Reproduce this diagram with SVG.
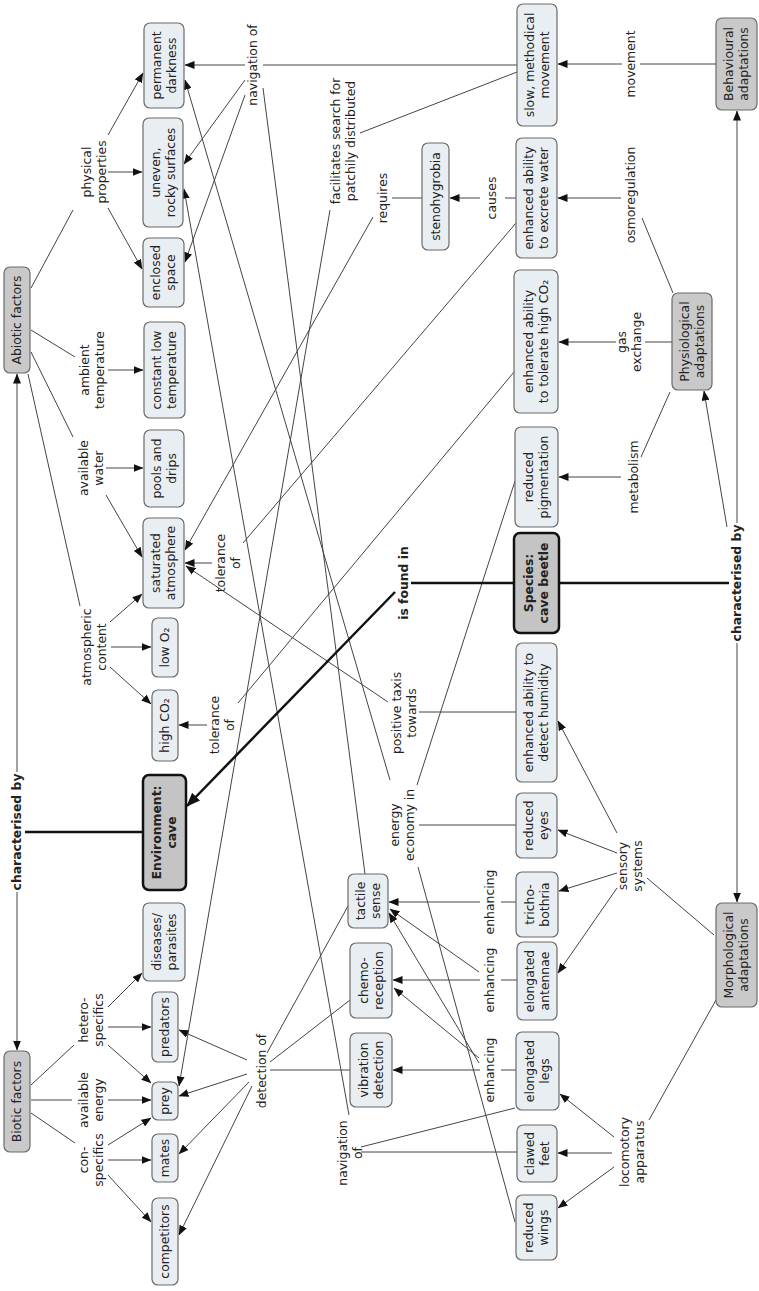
<svg xmlns="http://www.w3.org/2000/svg" width="759" height="1291" viewBox="0 0 759 1291">
<style>
.n rect{fill:#e9eef2;stroke:#6b6b6b;stroke-width:1.2}
.g rect{fill:#c9c9c9;stroke:#6b6b6b;stroke-width:1.2}
.k rect{fill:#c4c4c4;stroke:#111;stroke-width:2.5}
text{font-family:"DejaVu Sans",Verdana,sans-serif;font-size:12.4px;fill:#222;text-anchor:middle}
.b{font-weight:bold}
#connectors line{stroke:#444;stroke-width:1;fill:none}
#connectors line.a{marker-end:url(#ah)}
#connectors line.th{stroke:#111;stroke-width:2.5}
#connectors line.tha{stroke:#111;stroke-width:2.5;marker-end:url(#ahb)}
</style>
<defs>
<marker id="ah" markerUnits="userSpaceOnUse" markerWidth="10" markerHeight="8" refX="9.5" refY="4" orient="auto"><path d="M0,0 L10,4 L0,8 z" fill="#111"/></marker>
<marker id="ahb" markerUnits="userSpaceOnUse" markerWidth="14" markerHeight="11" refX="13" refY="5.5" orient="auto"><path d="M0,0 L14,5.5 L0,11 z" fill="#111"/></marker>
</defs>
<rect width="759" height="1291" fill="#fff"/>
<g id="connectors">
<line x1="31" y1="288" x2="73" y2="210"/>
<line class="a" x1="108" y1="135" x2="143" y2="73"/>
<line class="a" x1="108" y1="172" x2="142" y2="172"/>
<line class="a" x1="108" y1="208" x2="142" y2="269"/>
<line x1="31" y1="330" x2="75" y2="357"/>
<line class="a" x1="108" y1="370" x2="143" y2="370"/>
<line x1="31" y1="352" x2="73" y2="437"/>
<line class="a" x1="106" y1="468" x2="143" y2="468"/>
<line class="a" x1="106" y1="495" x2="142" y2="557"/>
<line x1="28" y1="374" x2="80" y2="606"/>
<line class="a" x1="110" y1="622" x2="142" y2="594"/>
<line class="a" x1="111" y1="647" x2="151" y2="647"/>
<line class="a" x1="110" y1="667" x2="151" y2="704"/>
<line x1="31" y1="1085" x2="74" y2="1045"/>
<line x1="31" y1="1100" x2="72" y2="1100"/>
<line x1="31" y1="1113" x2="75" y2="1143"/>
<line class="a" x1="108" y1="1007" x2="142" y2="973"/>
<line class="a" x1="108" y1="1027" x2="151" y2="1027"/>
<line class="a" x1="108" y1="1045" x2="151" y2="1083"/>
<line class="a" x1="108" y1="1100" x2="151" y2="1100"/>
<line class="a" x1="108" y1="1145" x2="151" y2="1118"/>
<line class="a" x1="108" y1="1160" x2="151" y2="1160"/>
<line class="a" x1="108" y1="1175" x2="151" y2="1222"/>
<line class="a" x1="247" y1="1060" x2="179" y2="1030"/>
<line class="a" x1="247" y1="1074" x2="179" y2="1096"/>
<line class="a" x1="249" y1="1082" x2="179" y2="1154"/>
<line class="a" x1="252" y1="1086" x2="179" y2="1235"/>
<line x1="348" y1="906" x2="267" y2="1053"/>
<line x1="350" y1="1000" x2="270" y2="1062"/>
<line x1="350" y1="1070" x2="270" y2="1070"/>
<line x1="516" y1="902" x2="501" y2="902"/>
<line class="a" x1="480" y1="902" x2="389" y2="902"/>
<line x1="517" y1="980" x2="501" y2="980"/>
<line class="a" x1="480" y1="980" x2="393" y2="980"/>
<line class="a" x1="479" y1="972" x2="390" y2="909"/>
<line x1="516" y1="1070" x2="501" y2="1070"/>
<line class="a" x1="480" y1="1070" x2="393" y2="1070"/>
<line class="a" x1="479" y1="1058" x2="394" y2="988"/>
<line class="a" x1="479" y1="1063" x2="389" y2="913"/>
<line x1="714" y1="935" x2="647" y2="878"/>
<line class="a" x1="617" y1="833" x2="558" y2="721"/>
<line class="a" x1="617" y1="853" x2="558" y2="830"/>
<line class="a" x1="617" y1="873" x2="559" y2="891"/>
<line class="a" x1="617" y1="888" x2="558" y2="973"/>
<line x1="716" y1="1000" x2="649" y2="1120"/>
<line class="a" x1="614" y1="1137" x2="560" y2="1094"/>
<line class="a" x1="612" y1="1153" x2="558" y2="1153"/>
<line class="a" x1="614" y1="1167" x2="558" y2="1208"/>
<line x1="517" y1="1152" x2="361" y2="1152"/>
<line x1="515" y1="1108" x2="361" y2="1147"/>
<line class="a" x1="349" y1="1115" x2="184" y2="189"/>
<line x1="517" y1="65" x2="263" y2="65"/>
<line class="a" x1="245" y1="65" x2="185" y2="65"/>
<line class="a" x1="245" y1="80" x2="184" y2="164"/>
<line class="a" x1="245" y1="95" x2="185" y2="262"/>
<line x1="365" y1="874" x2="263" y2="88"/>
<line x1="516" y1="825" x2="419" y2="825"/>
<line x1="515" y1="481" x2="417" y2="785"/>
<line x1="515" y1="1222" x2="418" y2="867"/>
<line class="a" x1="390" y1="780" x2="185" y2="80"/>
<line x1="516" y1="712" x2="419" y2="712"/>
<line class="a" x1="388" y1="702" x2="186" y2="566"/>
<line x1="516" y1="223" x2="243" y2="543"/>
<line class="a" x1="212" y1="563" x2="185" y2="563"/>
<line x1="514" y1="372" x2="238" y2="703"/>
<line class="a" x1="207" y1="725" x2="179" y2="725"/>
<line x1="422" y1="198" x2="392" y2="198"/>
<line class="a" x1="373" y1="217" x2="185" y2="550"/>
<line x1="516" y1="198" x2="505" y2="198"/>
<line class="a" x1="480" y1="198" x2="450" y2="198"/>
<line x1="517" y1="72" x2="360" y2="133"/>
<line class="a" x1="330" y1="210" x2="179" y2="1086"/>
<line x1="672" y1="342" x2="645" y2="342"/>
<line class="a" x1="616" y1="342" x2="559" y2="342"/>
<line x1="670" y1="392" x2="641" y2="457"/>
<line class="a" x1="621" y1="477" x2="559" y2="477"/>
<line x1="673" y1="293" x2="642" y2="218"/>
<line class="a" x1="621" y1="198" x2="558" y2="198"/>
<line x1="716" y1="64" x2="640" y2="64"/>
<line class="a" x1="622" y1="64" x2="558" y2="64"/>
<line class="a" x1="737" y1="523" x2="737" y2="111"/>
<line class="a" x1="737" y1="643" x2="737" y2="902"/>
<line class="a" x1="727" y1="527" x2="704" y2="391"/>
<line class="th" x1="559" y1="583" x2="729" y2="583"/>
<line class="th" x1="514" y1="583" x2="411" y2="583"/>
<line class="tha" x1="395" y1="592" x2="187" y2="806"/>
<line class="th" x1="143" y1="832" x2="25" y2="832"/>
<line class="a" x1="17" y1="772" x2="17" y2="374"/>
<line class="a" x1="17" y1="892" x2="17" y2="1050"/>
</g>
<g id="n_perm" class="n"><rect x="144" y="23" width="40" height="85" rx="6"/><text transform="translate(164,65.5) rotate(-90)"><tspan x="0" y="-3.3">permanent</tspan><tspan x="0" y="11.7">darkness</tspan></text></g>
<g id="n_uneven" class="n"><rect x="143" y="118" width="40" height="109" rx="6"/><text transform="translate(163,172.5) rotate(-90)"><tspan x="0" y="-3.3">uneven,</tspan><tspan x="0" y="11.7">rocky surfaces</tspan></text></g>
<g id="n_encl" class="n"><rect x="143" y="238" width="41" height="69" rx="6"/><text transform="translate(163.5,272.5) rotate(-90)"><tspan x="0" y="-3.3">enclosed</tspan><tspan x="0" y="11.7">space</tspan></text></g>
<g id="n_const" class="n"><rect x="144" y="322" width="41" height="96" rx="6"/><text transform="translate(164.5,370) rotate(-90)"><tspan x="0" y="-3.3">constant low</tspan><tspan x="0" y="11.7">temperature</tspan></text></g>
<g id="n_pools" class="n"><rect x="144" y="430" width="40" height="77" rx="6"/><text transform="translate(164,468.5) rotate(-90)"><tspan x="0" y="-3.3">pools and</tspan><tspan x="0" y="11.7">drips</tspan></text></g>
<g id="n_sat" class="n"><rect x="143" y="518" width="41" height="90" rx="6"/><text transform="translate(163.5,563) rotate(-90)"><tspan x="0" y="-3.3">saturated</tspan><tspan x="0" y="11.7">atmosphere</tspan></text></g>
<g id="n_lowo2" class="n"><rect x="152" y="618" width="26" height="59" rx="6"/><text transform="translate(165,647.5) rotate(-90)" y="4.2">low O₂</text></g>
<g id="n_highco2" class="n"><rect x="152" y="690" width="26" height="71" rx="6"/><text transform="translate(165,725.5) rotate(-90)" y="4.2">high CO₂</text></g>
<g id="n_env" class="k"><rect x="143" y="775" width="43" height="115" rx="6"/><text class="b" transform="translate(164.5,832.5) rotate(-90)"><tspan x="0" y="-3.3">Environment:</tspan><tspan x="0" y="11.7">cave</tspan></text></g>
<g id="n_dis" class="n"><rect x="143" y="903" width="42" height="78" rx="6"/><text transform="translate(164,942) rotate(-90)"><tspan x="0" y="-3.3">diseases/</tspan><tspan x="0" y="11.7">parasites</tspan></text></g>
<g id="n_pred" class="n"><rect x="152" y="992" width="26" height="70" rx="6"/><text transform="translate(165,1027) rotate(-90)" y="4.2">predators</text></g>
<g id="n_prey" class="n"><rect x="152" y="1082" width="26" height="38" rx="6"/><text transform="translate(165,1101) rotate(-90)" y="4.2">prey</text></g>
<g id="n_mates" class="n"><rect x="152" y="1134" width="26" height="48" rx="6"/><text transform="translate(165,1158) rotate(-90)" y="4.2">mates</text></g>
<g id="n_comp" class="n"><rect x="152" y="1198" width="26" height="87" rx="6"/><text transform="translate(165,1241.5) rotate(-90)" y="4.2">competitors</text></g>
<g id="n_abiotic" class="g"><rect x="4" y="267" width="26" height="106" rx="6"/><text transform="translate(17,320) rotate(-90)" y="4.2">Abiotic factors</text></g>
<g id="n_biotic" class="g"><rect x="4" y="1051" width="26" height="101" rx="6"/><text transform="translate(17,1101.5) rotate(-90)" y="4.2">Biotic factors</text></g>
<g id="n_tactile" class="n"><rect x="348" y="874" width="40" height="54" rx="6"/><text transform="translate(368,901) rotate(-90)"><tspan x="0" y="-3.3">tactile</tspan><tspan x="0" y="11.7">sense</tspan></text></g>
<g id="n_chemo" class="n"><rect x="350" y="943" width="42" height="75" rx="6"/><text transform="translate(371,980.5) rotate(-90)"><tspan x="0" y="-3.3">chemo-</tspan><tspan x="0" y="11.7">reception</tspan></text></g>
<g id="n_vib" class="n"><rect x="350" y="1033" width="42" height="74" rx="6"/><text transform="translate(371,1070) rotate(-90)"><tspan x="0" y="-3.3">vibration</tspan><tspan x="0" y="11.7">detection</tspan></text></g>
<g id="n_steno" class="n"><rect x="422" y="143" width="27" height="107" rx="6"/><text transform="translate(435.5,196.5) rotate(-90)" y="4.2">stenohygrobia</text></g>
<g id="n_slow" class="n"><rect x="517" y="4" width="40" height="122" rx="6"/><text transform="translate(537,65) rotate(-90)"><tspan x="0" y="-3.3">slow, methodical</tspan><tspan x="0" y="11.7">movement</tspan></text></g>
<g id="n_excrete" class="n"><rect x="516" y="138" width="41" height="120" rx="6"/><text transform="translate(536.5,198) rotate(-90)"><tspan x="0" y="-3.3">enhanced ability</tspan><tspan x="0" y="11.7">to excrete water</tspan></text></g>
<g id="n_tolco2" class="n"><rect x="514" y="270" width="44" height="143" rx="6"/><text transform="translate(536,341.5) rotate(-90)"><tspan x="0" y="-3.3">enhanced ability</tspan><tspan x="0" y="11.7">to tolerate high CO₂</tspan></text></g>
<g id="n_pigm" class="n"><rect x="515" y="427" width="43" height="100" rx="6"/><text transform="translate(536.5,477) rotate(-90)"><tspan x="0" y="-3.3">reduced</tspan><tspan x="0" y="11.7">pigmentation</tspan></text></g>
<g id="n_species" class="k"><rect x="514" y="533" width="45" height="100" rx="6"/><text class="b" transform="translate(536.5,583) rotate(-90)"><tspan x="0" y="-3.3">Species:</tspan><tspan x="0" y="11.7">cave beetle</tspan></text></g>
<g id="n_humid" class="n"><rect x="516" y="643" width="41" height="139" rx="6"/><text transform="translate(536.5,712.5) rotate(-90)"><tspan x="0" y="-3.3">enhanced ability to</tspan><tspan x="0" y="11.7">detect humidity</tspan></text></g>
<g id="n_eyes" class="n"><rect x="516" y="793" width="41" height="65" rx="6"/><text transform="translate(536.5,825.5) rotate(-90)"><tspan x="0" y="-3.3">reduced</tspan><tspan x="0" y="11.7">eyes</tspan></text></g>
<g id="n_tricho" class="n"><rect x="516" y="872" width="42" height="65" rx="6"/><text transform="translate(537,904.5) rotate(-90)"><tspan x="0" y="-3.3">tricho-</tspan><tspan x="0" y="11.7">bothria</tspan></text></g>
<g id="n_antennae" class="n"><rect x="517" y="942" width="40" height="78" rx="6"/><text transform="translate(537,981) rotate(-90)"><tspan x="0" y="-3.3">elongated</tspan><tspan x="0" y="11.7">antennae</tspan></text></g>
<g id="n_legs" class="n"><rect x="516" y="1032" width="43" height="78" rx="6"/><text transform="translate(537.5,1071) rotate(-90)"><tspan x="0" y="-3.3">elongated</tspan><tspan x="0" y="11.7">legs</tspan></text></g>
<g id="n_feet" class="n"><rect x="517" y="1125" width="40" height="57" rx="6"/><text transform="translate(537,1153.5) rotate(-90)"><tspan x="0" y="-3.3">clawed</tspan><tspan x="0" y="11.7">feet</tspan></text></g>
<g id="n_wings" class="n"><rect x="516" y="1195" width="41" height="65" rx="6"/><text transform="translate(536.5,1227.5) rotate(-90)"><tspan x="0" y="-3.3">reduced</tspan><tspan x="0" y="11.7">wings</tspan></text></g>
<g id="n_physio" class="g"><rect x="672" y="293" width="40" height="97" rx="6"/><text transform="translate(692,341.5) rotate(-90)"><tspan x="0" y="-3.3">Physiological</tspan><tspan x="0" y="11.7">adaptations</tspan></text></g>
<g id="n_behav" class="g"><rect x="716" y="18" width="41" height="92" rx="6"/><text transform="translate(736.5,64) rotate(-90)"><tspan x="0" y="-3.3">Behavioural</tspan><tspan x="0" y="11.7">adaptations</tspan></text></g>
<g id="n_morph" class="g"><rect x="716" y="903" width="41" height="104" rx="6"/><text transform="translate(736.5,955) rotate(-90)"><tspan x="0" y="-3.3">Morphological</tspan><tspan x="0" y="11.7">adaptations</tspan></text></g>
<g id="labels">
<text id="l_phys" transform="translate(94,172) rotate(-90)"><tspan x="0" y="-3.3">physical</tspan><tspan x="0" y="11.7">properties</tspan></text>
<text id="l_amb" transform="translate(92,370) rotate(-90)"><tspan x="0" y="-3.3">ambient</tspan><tspan x="0" y="11.7">temperature</tspan></text>
<text id="l_water" transform="translate(91,468) rotate(-90)"><tspan x="0" y="-3.3">available</tspan><tspan x="0" y="11.7">water</tspan></text>
<text id="l_atm" transform="translate(94,647) rotate(-90)"><tspan x="0" y="-3.3">atmospheric</tspan><tspan x="0" y="11.7">content</tspan></text>
<text id="l_nav1" transform="translate(253,65) rotate(-90)" y="4.2">navigation of</text>
<text id="l_fac" transform="translate(343,141) rotate(-90)"><tspan x="0" y="-3.3">facilitates search for</tspan><tspan x="0" y="11.7">patchily distributed</tspan></text>
<text id="l_req" transform="translate(383,198) rotate(-90)" y="4.2">requires</text>
<text id="l_causes" transform="translate(492,198) rotate(-90)" y="4.2">causes</text>
<text id="l_osmo" transform="translate(631,195) rotate(-90)" y="4.2">osmoregulation</text>
<text id="l_move" transform="translate(631,64) rotate(-90)" y="4.2">movement</text>
<text id="l_gas" transform="translate(629,342) rotate(-90)"><tspan x="0" y="-3.3">gas</tspan><tspan x="0" y="11.7">exchange</tspan></text>
<text id="l_metab" transform="translate(634,477) rotate(-90)" y="4.2">metabolism</text>
<text id="l_tol1" transform="translate(228,563) rotate(-90)"><tspan x="0" y="-3.3">tolerance</tspan><tspan x="0" y="11.7">of</tspan></text>
<text id="l_tol2" transform="translate(222,725) rotate(-90)"><tspan x="0" y="-3.3">tolerance</tspan><tspan x="0" y="11.7">of</tspan></text>
<text id="l_found" class="b" transform="translate(404,583) rotate(-90)" y="4.2">is found in</text>
<text id="l_char1" class="b" transform="translate(17,832) rotate(-90)" y="4.2">characterised by</text>
<text id="l_char2" class="b" transform="translate(737,583) rotate(-90)" y="4.2">characterised by</text>
<text id="l_taxis" transform="translate(404,713) rotate(-90)"><tspan x="0" y="-3.3">positive taxis</tspan><tspan x="0" y="11.7">towards</tspan></text>
<text id="l_energy" transform="translate(402,825) rotate(-90)"><tspan x="0" y="-3.3">energy</tspan><tspan x="0" y="11.7">economy in</tspan></text>
<text id="l_enh1" transform="translate(490,902) rotate(-90)" y="4.2">enhancing</text>
<text id="l_enh2" transform="translate(490,980) rotate(-90)" y="4.2">enhancing</text>
<text id="l_enh3" transform="translate(490,1070) rotate(-90)" y="4.2">enhancing</text>
<text id="l_sens" transform="translate(630,866) rotate(-90)"><tspan x="0" y="-3.3">sensory</tspan><tspan x="0" y="11.7">systems</tspan></text>
<text id="l_loco" transform="translate(632,1152) rotate(-90)"><tspan x="0" y="-3.3">locomotory</tspan><tspan x="0" y="11.7">apparatus</tspan></text>
<text id="l_detect" transform="translate(262,1071) rotate(-90)" y="4.2">detection of</text>
<text id="l_nav2" transform="translate(350,1153) rotate(-90)"><tspan x="0" y="-3.3">navigation</tspan><tspan x="0" y="11.7">of</tspan></text>
<text id="l_hetero" transform="translate(91,1020) rotate(-90)"><tspan x="0" y="-3.3">hetero-</tspan><tspan x="0" y="11.7">specifics</tspan></text>
<text id="l_energy2" transform="translate(91,1100) rotate(-90)"><tspan x="0" y="-3.3">available</tspan><tspan x="0" y="11.7">energy</tspan></text>
<text id="l_con" transform="translate(91,1160) rotate(-90)"><tspan x="0" y="-3.3">con-</tspan><tspan x="0" y="11.7">specifics</tspan></text>
</g>
</svg>
